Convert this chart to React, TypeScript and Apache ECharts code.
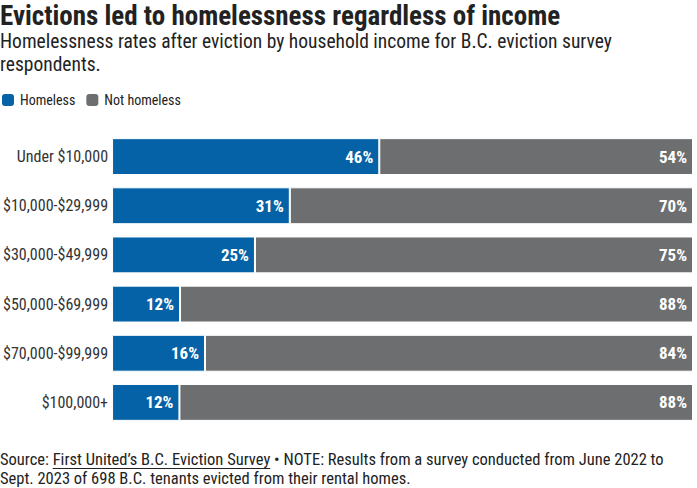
import React, { useEffect, useRef } from "react";
import * as echarts from "echarts";

const categories = [
  "Under $10,000",
  "$10,000-$29,999",
  "$30,000-$49,999",
  "$50,000-$69,999",
  "$70,000-$99,999",
  "$100,000+",
];
// bar lengths (share of respondents, %)
const homeless = [46, 30.6, 24.6, 11.7, 16.0, 11.6];
const notHomeless = [54, 69.4, 75.4, 88.3, 84.0, 88.4];
// printed labels
const homelessLabels = ["46%", "31%", "25%", "12%", "16%", "12%"];
const notHomelessLabels = ["54%", "70%", "75%", "88%", "84%", "88%"];

const FONT = "'Roboto Condensed', 'Liberation Sans Narrow', 'Arial Narrow', Roboto, sans-serif";
const BLUE = "#0562a6";
const GRAY = "#6d6e70";

function measure(text: string, font: string) {
  const c = document.createElement("canvas");
  const ctx = c.getContext("2d")!;
  ctx.font = font;
  return ctx.measureText(text).width;
}

export default function App() {
  const ref = useRef<HTMLDivElement>(null);
  useEffect(() => {
    document.body.style.margin = "0";
    const chart = echarts.init(ref.current!, null, { renderer: "svg" });
    const footFont = `16.5px ${FONT}`;
    const srcW = measure("Source: ", footFont);
    const linkW = measure("First United’s B.C. Eviction Survey", footFont);
    chart.setOption({
      animation: false,
      backgroundColor: "#ffffff",
      textStyle: { fontFamily: FONT },
      graphic: [
        {
          type: "text",
          left: 0,
          top: 2,
          style: {
            text: "Evictions led to homelessness regardless of income",
            font: `bold 27px ${FONT}`,
            fill: "#222222",
          },
        },
        {
          type: "text",
          left: 0,
          top: 30,
          style: {
            text: "Homelessness rates after eviction by household income for B.C. eviction survey\nrespondents.",
            font: `19.5px ${FONT}`,
            lineHeight: 23,
            fill: "#222222",
          },
        },
        {
          type: "text",
          left: 0,
          top: 450,
          style: {
            text: "Source: First United’s B.C. Eviction Survey • NOTE: Results from a survey conducted from June 2022 to\nSept. 2023 of 698 B.C. tenants evicted from their rental homes.",
            font: footFont,
            lineHeight: 19,
            fill: "#222222",
          },
        },
        {
          type: "line",
          shape: { x1: srcW, y1: 468.5, x2: srcW + linkW, y2: 468.5 },
          style: { stroke: "#222222", lineWidth: 1 },
        },
      ],
      legend: {
        left: 0,
        top: 92,
        padding: 0,
        icon: "path://M4,0 H10 A4,4 0 0 1 14,4 V10 A4,4 0 0 1 10,14 H4 A4,4 0 0 1 0,10 V4 A4,4 0 0 1 4,0 Z",
        itemWidth: 14,
        itemHeight: 14,
        itemGap: 9,
        textStyle: { fontSize: 14, color: "#222222", fontFamily: FONT },
        data: ["Homeless", "Not homeless"],
      },
      grid: { left: 112, right: 4, top: 132, height: 295, containLabel: false },
      xAxis: { type: "value", min: 0, max: 100, show: false },
      yAxis: {
        type: "category",
        data: categories,
        inverse: true,
        axisLine: { show: false },
        axisTick: { show: false },
        axisLabel: { fontSize: 16, color: "#333333", margin: 4, fontFamily: FONT },
      },
      series: [
        {
          name: "Homeless",
          type: "bar",
          stack: "t",
          data: homeless,
          barCategoryGap: "25%",
          itemStyle: { color: BLUE, borderColor: "#ffffff", borderWidth: 1 },
          label: {
            show: true,
            position: "insideRight",
            distance: 6,
            formatter: (p: any) => homelessLabels[p.dataIndex],
            color: "#ffffff",
            fontWeight: "bold",
            fontSize: 17,
            fontFamily: FONT,
          },
        },
        {
          name: "Not homeless",
          type: "bar",
          stack: "t",
          data: notHomeless,
          itemStyle: { color: GRAY, borderColor: "#ffffff", borderWidth: 1 },
          label: {
            show: true,
            position: "insideRight",
            distance: 6,
            formatter: (p: any) => notHomelessLabels[p.dataIndex],
            color: "#ffffff",
            fontWeight: "bold",
            fontSize: 17,
            fontFamily: FONT,
          },
        },
      ],
    });
    return () => chart.dispose();
  }, []);
  return <div ref={ref} style={{ width: 697, height: 488 }} />;
}
